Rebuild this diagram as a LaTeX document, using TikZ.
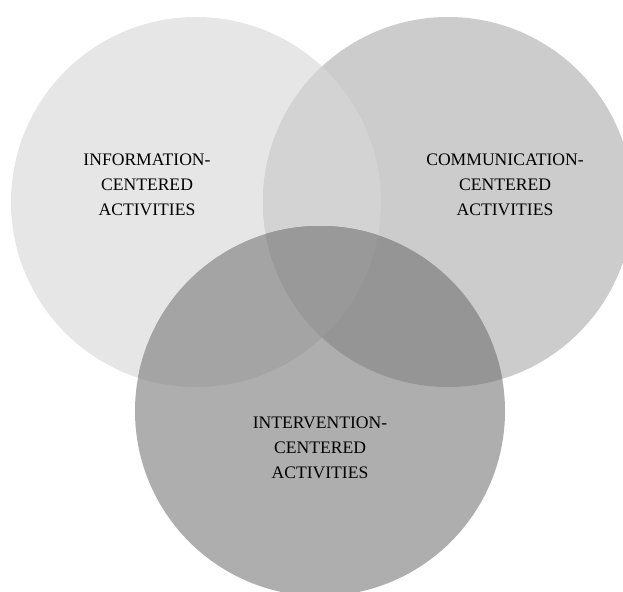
\documentclass[tikz,border=0pt]{standalone}
\usepackage{fontspec}
\setmainfont{Liberation Serif}
\definecolor{cL}{HTML}{E6E6E6}
\definecolor{cR}{HTML}{CCCCCC}
\definecolor{cLR}{HTML}{D3D3D3}
\definecolor{cB}{HTML}{AEAEAE}
\definecolor{cBL}{HTML}{A4A4A4}
\definecolor{cBR}{HTML}{959595}
\definecolor{cLRB}{HTML}{999999}
\tikzset{lbl/.style={align=center,font=\fontsize{17.6}{25}\selectfont,text=black,inner sep=0pt}}
\begin{document}
\begin{tikzpicture}[x=1pt,y=-1pt]
\useasboundingbox (0,0) rectangle (623,591);
\clip (0,0) rectangle (623,591);
\def\CL{(196,202) circle[radius=185]}
\def\CR{(448,202) circle[radius=185]}
\def\CB{(320,411) circle[radius=185]}
\fill[cL] \CL;
\fill[cR] \CR;
\begin{scope}\clip \CR; \fill[cLR] \CL;\end{scope}
\fill[cB] \CB;
\begin{scope}\clip \CB; \fill[cBL] \CL;\end{scope}
\begin{scope}\clip \CB; \fill[cBR] \CR;\end{scope}
\begin{scope}\clip \CB; \clip \CL; \fill[cLRB] \CR;\end{scope}
\node[lbl] (info) at (147,185) {INFORMATION-\\CENTERED\\ACTIVITIES};
\node[lbl] (comm) at (505,185) {COMMUNICATION-\\CENTERED\\ACTIVITIES};
\node[lbl] (interv) at (320,448) {INTERVENTION-\\CENTERED\\ACTIVITIES};
\end{tikzpicture}
\end{document}
